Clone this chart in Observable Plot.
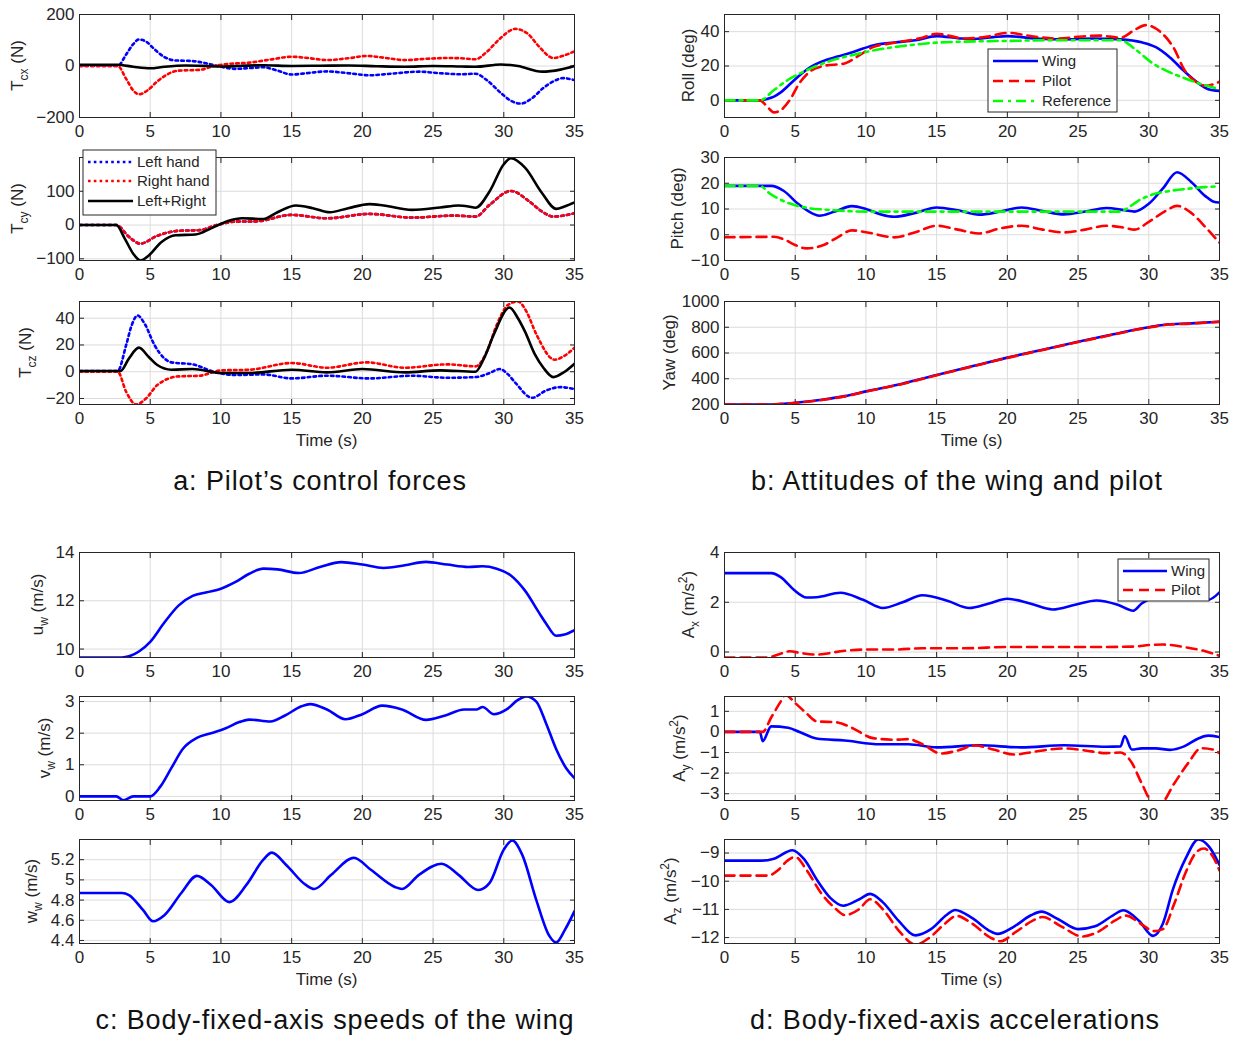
<!DOCTYPE html>
<html><head><meta charset="utf-8">
<script src="https://cdn.jsdelivr.net/npm/d3@7"></script>
<script src="https://cdn.jsdelivr.net/npm/@observablehq/plot@0.6"></script>
<style>
body{margin:0;background:#fff;}
#root{position:relative;width:1237px;height:1039px;background:#fff;overflow:hidden;}
</style></head><body><div id="root"></div>
<script>
// ---------- DATA ----------
const xTicks = [0, 5, 10, 15, 20, 25, 30, 35];

// a: pilot's control forces (N)
const tcxLeft = [[0,0],[2.7,0],[3.3,45],[3.8,85],[4.2,103],[4.7,95],[5.3,65],[6,35],[6.7,22],[8,19],[9,10],[10,-3],[11,-11],[12,-8],[13,-5],[14,-18],[15,-33],[16.2,-27],[17.5,-21],[19,-28],[20.5,-36],[22,-30],[24,-22],[25.5,-28],[27,-32],[28,-30],[28.8,-55],[29.8,-105],[30.5,-135],[31.2,-146],[32,-125],[32.8,-85],[33.5,-60],[34.2,-47],[35,-55]];
const tcxRight = [[0,0],[2.7,0],[3.3,-50],[3.8,-95],[4.2,-110],[4.8,-95],[5.5,-60],[6.3,-30],[7,-18],[8.5,-15],[9.5,0],[10.5,8],[12,13],[13.5,25],[15,36],[16.3,30],[17.5,23],[19,30],[20.3,39],[21.8,30],[23,23],[24.5,28],[26,31],[27,30],[28,26],[28.8,55],[29.8,110],[30.8,144],[31.7,125],[32.5,75],[33.5,31],[34.2,40],[35,57]];
const tcxSum = [[0,5],[2.7,5],[3.8,-3],[5,-9],[6,-3],[7.5,2],[9,0],[10,-2],[11.5,1],[13,3],[15,0],[17,1],[19,2],[21,-1],[23,-3],[25,0],[27,-2],[28,-3],[29.8,6],[31,0],[32.7,-22],[34,-14],[35,0]];

const tcyRight = [[0,0],[2.6,0],[3.5,-35],[4.3,-55],[5.5,-32],[7,-17],[8.5,-15],[9.7,0],[11,10],[12.5,11],[15,30],[17.5,20],[20.5,33],[23.5,22],[26.5,28],[28,25],[29,60],[30.5,101],[31.8,70],[32.7,40],[33.5,25],[35,35]];
const tcyLeft = [[0,0],[2.6,0],[3.5,-35],[4.3,-55],[5.5,-32],[7,-17],[8.5,-15],[9.7,0],[11,10],[12.5,11],[15,30],[17.5,20],[20.5,33],[23.5,22],[26.5,28],[28,25],[29,60],[30.5,101],[31.8,70],[32.7,40],[33.5,25],[35,35]];
const tcySum = [[0,0],[2.6,0],[3.2,-40],[3.8,-85],[4.3,-105],[4.9,-90],[5.8,-50],[6.8,-30],[8.2,-28],[9.3,-10],[10.5,12],[11.5,20],[13,18],[14,38],[15.3,58],[16.5,50],[17.7,38],[19,50],[20.5,62],[21.5,58],[23.5,45],[25.5,52],[26.8,58],[27.5,55],[28,51],[29,100],[30,180],[30.5,198],[31.5,170],[32.7,95],[33.7,48],[34.3,55],[35,67]];

const tczLeft = [[0,0.5],[2.7,0.5],[3.3,20],[3.7,35],[4.1,42],[4.6,36],[5.3,20],[6,10],[6.5,7],[8,5.5],[9.5,0],[11,-2.5],[13,-2],[15,-5],[17.5,-3],[20.5,-5],[23.5,-3],[26,-4.5],[28,-4],[29,-1],[29.7,2],[30.3,-2],[30.8,-8],[32,-19.5],[33,-14],[34,-11.5],[35,-13]];
const tczRight = [[0,0],[2.7,0],[3.3,-15],[4,-24.5],[4.7,-20],[5.5,-10],[7,-3.5],[8.5,-3],[10,1],[12,1.5],[15,6.5],[17.5,3],[20.3,7],[23,3],[26,5.5],[28,4],[28.8,15],[29.5,35],[30.3,50],[31,52.5],[31.6,45],[32.3,28],[33.6,9],[34.3,12],[35,18]];
const tczSum = [[0,0.5],[2.9,0.5],[3.5,10],[4.2,18],[4.9,11],[5.5,5],[6.5,1.5],[8,2],[10,-1],[12,-1],[15,1.5],[17.5,-0.5],[20,2],[23,-0.5],[25.5,1],[28,0],[28.6,10],[29.3,28],[30.4,48],[31,40],[31.5,30],[32.2,13],[32.8,3],[33.5,-4],[34.3,0],[35,6]];

// b: attitudes (deg)
const rollWing = [[0,0],[2.5,0],[3,0.8],[3.5,2.2],[4,4.8],[5,12.3],[6,19],[7,23],[8,25.5],[9.2,28.5],[10.5,32],[12,33.7],[13.5,35],[15,37.4],[16.5,36.2],[17.5,35.6],[19,36.8],[20,37.4],[22,36],[24,35.5],[26,36],[28,35.5],[29.5,33.8],[30.5,31],[31.5,25],[32.5,17],[33.5,10],[34.2,6.5],[35,5.5]];
const rollPilot = [[0,0],[2.5,0],[3,-3.5],[3.5,-7],[4,-5.6],[4.6,0],[5.3,10],[6,16.5],[7,20],[8.5,21.5],[9.5,26],[10.5,31],[12,33.5],[14,36.5],[15,38.8],[17,36],[18.5,37],[20,39.3],[22,37],[23.5,36],[25,37],[26.5,37.7],[28,36.5],[29,41],[29.8,43.8],[30.8,40],[31.8,30],[32.5,18],[33.3,11],[34,8.5],[35,10.8]];
const rollRef = [[0,0],[2.5,0],[3.5,6],[4.5,12],[5.5,16.3],[6.5,20],[7.5,23],[9,26.3],[10.5,29],[12,31],[13.5,32.5],[15,33.6],[17,34.2],[20,34.6],[23,35],[28,35],[29,30],[30.2,22],[31.3,17],[32.5,13],[33.5,10],[34.3,8],[35,6.5]];

const pitchWing = [[0,19],[2.5,19],[3.3,19],[4.2,17],[5.2,12],[6.2,8.3],[6.7,7.4],[7.8,9],[9,11.1],[10,10],[11,8],[12,7],[13.5,8.5],[15,10.6],[16.5,9.5],[18,7.8],[19.5,9],[21,10.6],[22.5,9.2],[24,7.9],[25.5,9],[27,10.4],[28.3,9.5],[29,9],[30,12],[31,18],[32,24.3],[33,20.5],[34,15],[34.6,12.8],[35,12.5]];
const pitchPilot = [[0,-1],[3.5,-0.8],[4.3,-2],[5,-4],[5.8,-5.3],[7,-4],[8,-1],[9,1.7],[10,1],[12,-1],[13.5,1],[15,3.5],[16.5,2],[18,0.5],[19.5,2.5],[21,3.5],[22.5,2],[24,0.9],[25.5,2],[27,3.5],[28.2,2.8],[29,2],[30,5],[31.2,9.3],[32,11.2],[33,8.5],[34,3],[35,-3.1]];
const pitchRef = [[0,19],[2.5,19],[3.2,16],[4.2,13],[5,11.5],[6,10.3],[7,9.8],[8,9.4],[10,9],[28,9],[28.4,10],[29.2,13],[30.2,15.5],[31.5,17],[33,18],[34,18.5],[35,18.8]];

const yawWing = [[0,200],[3,200],[4,205],[5,214],[7,239],[8.5,265],[10,302],[12.5,360],[15,429],[17.5,497],[20,564],[22.5,626],[25,687],[27.5,745],[29,780],[30,800],[31,818],[33,830],[35,843]];
const yawPilot = [[0,199],[3,199],[4,203],[5,212],[7,237],[8.5,263],[10,300],[12.5,358],[15,427],[17.5,495],[20,562],[22.5,624],[25,685],[27.5,743],[29,778],[30,798],[31,816],[33,829],[35,842]];

// c: body-fixed-axis speeds of the wing (m/s)
const uw = [[0,9.65],[3,9.65],[3.5,9.7],[4.2,9.9],[5,10.3],[6,11.1],[7,11.8],[8,12.2],[9,12.35],[10,12.5],[11,12.77],[12,13.12],[13,13.33],[14,13.3],[15.5,13.15],[17,13.4],[18.5,13.6],[20,13.5],[21.5,13.36],[23,13.47],[24.5,13.61],[26,13.5],[27.5,13.4],[28.5,13.43],[29.5,13.33],[30.5,13.05],[31.5,12.42],[32.5,11.5],[33,11.05],[33.7,10.55],[34.3,10.6],[35,10.78]];
const vw = [[0,0],[2.6,0],[3.1,-0.12],[3.8,0],[5,0],[5.7,0.3],[6.5,0.9],[7.3,1.5],[8.3,1.85],[9.3,2.0],[10.3,2.15],[11.3,2.35],[12,2.43],[13.5,2.37],[14.5,2.55],[15.7,2.85],[16.3,2.92],[17.5,2.75],[18.8,2.44],[20,2.6],[21.4,2.87],[22.8,2.75],[24.5,2.42],[25.8,2.55],[27.2,2.75],[28.1,2.75],[28.5,2.83],[29.3,2.6],[30.2,2.75],[31,3.05],[31.6,3.16],[32.3,3.0],[33,2.3],[33.7,1.5],[34.4,0.9],[35,0.58]];
const ww = [[0,4.87],[3,4.87],[3.5,4.85],[4.5,4.7],[5.2,4.59],[6,4.65],[7.2,4.87],[8.3,5.04],[9.3,4.95],[10.6,4.78],[11.8,4.95],[13,5.2],[13.6,5.27],[14.6,5.15],[16,4.95],[16.6,4.91],[17.8,5.05],[19.4,5.22],[20.6,5.1],[22.3,4.93],[22.8,4.91],[24,5.05],[25.6,5.16],[26.8,5.05],[28.2,4.9],[29,4.97],[30,5.3],[30.6,5.39],[31.3,5.25],[32.3,4.8],[33.2,4.45],[33.7,4.38],[34.3,4.5],[35,4.69]];

// d: body-fixed-axis accelerations (m/s^2)
const axWing = [[0,3.17],[3.3,3.17],[4,3.0],[4.9,2.5],[5.8,2.19],[6.5,2.2],[8.2,2.38],[9.8,2.1],[11.2,1.77],[12.6,2.0],[14,2.28],[15.8,2.05],[17.3,1.77],[18.7,1.95],[20,2.14],[21.6,1.95],[23.2,1.71],[24.8,1.9],[26.3,2.07],[27.8,1.9],[28.9,1.66],[29.5,1.95],[30.5,2.25],[31.5,2.35],[32.5,2.25],[33.5,2.1],[34.2,2.1],[35,2.4]];
const axPilot = [[0,-0.22],[3,-0.22],[3.8,-0.1],[4.6,0.03],[5.5,-0.05],[6.5,-0.1],[8.5,0.05],[10,0.1],[12,0.1],[14,0.15],[17,0.15],[20,0.2],[23,0.2],[26,0.2],[29,0.22],[30,0.28],[31,0.3],[32.5,0.2],[34,0.03],[35,-0.15]];
const ayWing = [[0,0],[2.5,0],[2.7,-0.45],[3.3,0.27],[4.5,0.2],[5.3,0],[6.5,-0.32],[8.5,-0.42],[11,-0.6],[13,-0.6],[15,-0.75],[18,-0.65],[21,-0.75],[24,-0.65],[27,-0.72],[28,-0.7],[28.3,-0.2],[28.8,-0.85],[29.5,-0.8],[30.5,-0.8],[31.5,-0.87],[32.5,-0.7],[33.5,-0.32],[34.2,-0.18],[35,-0.25]];
const ayPilot = [[0,0],[2.7,0],[3.3,0.7],[4,1.5],[4.3,1.8],[5,1.4],[5.8,0.9],[6.5,0.52],[8,0.46],[9,0.2],[10.5,-0.3],[12,-0.38],[13,-0.35],[14,-0.6],[15.3,-1.05],[16.5,-0.9],[17.7,-0.66],[19,-0.85],[20.5,-1.1],[22,-0.95],[24,-0.8],[25.5,-0.9],[27,-1.03],[28,-1.0],[28.8,-1.5],[29.5,-2.5],[30.3,-3.4],[30.9,-3.4],[31.8,-2.5],[32.8,-1.5],[33.7,-0.79],[34.5,-0.85],[35,-1.03]];
const azWing = [[0,-9.27],[2.6,-9.27],[3.5,-9.2],[4.8,-8.9],[5.6,-9.2],[6.6,-10],[7.5,-10.6],[8.4,-10.87],[9.5,-10.65],[10.3,-10.45],[11.2,-10.75],[12.3,-11.4],[13.5,-11.92],[14.6,-11.7],[15.7,-11.2],[16.3,-11.02],[17.5,-11.3],[18.7,-11.75],[19.3,-11.87],[20.5,-11.6],[21.7,-11.2],[22.4,-11.08],[23.6,-11.35],[25,-11.7],[26.2,-11.6],[27.5,-11.2],[28.2,-11.03],[29.3,-11.4],[30.3,-11.94],[31,-11.5],[31.7,-10.3],[32.6,-9.2],[33.5,-8.52],[34.3,-8.8],[35,-9.42]];
const azPilot = [[0,-9.8],[3.1,-9.8],[3.8,-9.6],[4.5,-9.25],[5,-9.14],[5.8,-9.6],[6.8,-10.4],[7.8,-10.95],[8.5,-11.2],[9.5,-11.0],[10.3,-10.64],[11.2,-11.0],[12.4,-11.8],[13.5,-12.25],[14.5,-12.0],[15.6,-11.5],[16.4,-11.23],[17.5,-11.5],[18.8,-12.0],[19.5,-12.13],[20.6,-11.8],[21.8,-11.4],[22.5,-11.27],[23.8,-11.6],[25.3,-11.96],[26.4,-11.8],[27.6,-11.4],[28.4,-11.22],[29.4,-11.5],[30.4,-11.77],[31,-11.7],[31.8,-10.8],[32.6,-9.7],[33.4,-8.95],[33.9,-8.84],[34.5,-9.1],[35,-9.62]];

// ---------- STYLES ----------
const FONT = "'Liberation Sans', Arial, Helvetica, sans-serif";
const TXT = "#262626";
const LW = 2.6;
const S = {
  blue:   {stroke: "#0000ff", strokeWidth: LW},
  redDash:{stroke: "#ff0000", strokeWidth: LW, strokeDasharray: "10 6"},
  green:  {stroke: "#00ff00", strokeWidth: LW, strokeDasharray: "10 5 3 5"},
  blueDot:{stroke: "#0000ff", strokeWidth: LW, strokeDasharray: "2.6 3.2"},
  redDot: {stroke: "#ff0000", strokeWidth: LW, strokeDasharray: "2.6 3.2"},
  black:  {stroke: "#000000", strokeWidth: LW}
};

const fmt = d => d < 0 ? "\u2212" + Math.abs(d) : String(d);
const blank = () => "";
const root = document.getElementById("root");
const ML = 79, MR = 18, MT = 8, MB = 28, FW = 495;

function panel(p) {
  const svgLeft = p.fx - ML, svgTop = p.fy - MT;
  const marks = [
    Plot.gridX(xTicks, {stroke: "#dcdcdc", strokeOpacity: 1, strokeWidth: 1}),
    Plot.gridY(p.ticks, {stroke: "#dcdcdc", strokeOpacity: 1, strokeWidth: 1}),
    Plot.axisX({ticks: xTicks, tickSize: -5, tickPadding: 12, label: null, tickFormat: fmt, stroke: "#262626"}),
    Plot.axisX({anchor: "top", ticks: xTicks, tickSize: -5, tickPadding: 0, label: null, tickFormat: blank, stroke: "#262626"}),
    Plot.axisY({ticks: p.ticks, tickSize: -5, tickPadding: 10, label: null, tickFormat: fmt, stroke: "#262626"}),
    Plot.axisY({anchor: "right", ticks: p.ticks, tickSize: -5, tickPadding: 0, label: null, tickFormat: blank, stroke: "#262626"}),
    ...p.series.map(([data, st]) => Plot.line(data.map(([t, v]) => ({t, v})),
        {x: "t", y: "v", curve: "monotone-x", clip: true, ...st})),
    Plot.frame({stroke: "#262626", strokeWidth: 1})
  ];
  const svg = Plot.plot({
    width: ML + FW + MR, height: MT + p.fh + MB,
    marginLeft: ML, marginRight: MR, marginTop: MT, marginBottom: MB,
    x: {domain: [0, 35]}, y: {domain: p.domain},
    style: {background: "none", overflow: "visible", fontFamily: FONT, fontSize: "17px", color: TXT,
            position: "absolute", left: svgLeft + "px", top: svgTop + "px", maxWidth: "none"},
    marks
  });
  root.appendChild(svg);
  const s = d3.select(svg);
  // y label with sub/superscripts
  const t = s.append("text")
    .attr("transform", `translate(${p.labelX + 6 - svgLeft},${MT + p.fh / 2}) rotate(-90)`)
    .attr("text-anchor", "middle").attr("font-size", 17).attr("fill", TXT).attr("font-family", FONT);
  let shift = 0;
  for (const [txt, kind] of p.label) {
    const target = kind === "sub" ? 5 : kind === "sup" ? -7 : 0;
    const ts = t.append("tspan").text(txt);
    if (target !== shift) ts.attr("dy", target - shift);
    if (kind) ts.attr("font-size", 12);
    shift = target;
  }
  if (p.xlabel) {
    s.append("text").attr("x", ML + FW / 2).attr("y", MT + p.fh + 42)
      .attr("text-anchor", "middle").attr("font-size", 17).attr("fill", TXT)
      .attr("font-family", FONT).text("Time (s)");
  }
  if (p.legend) {
    const L = p.legend;
    const g = s.append("g").attr("transform", `translate(${-svgLeft},${-svgTop})`);
    g.append("rect").attr("x", L.x).attr("y", L.y).attr("width", L.w).attr("height", L.h)
      .attr("fill", "#fff").attr("stroke", "#262626").attr("stroke-width", 1);
    L.items.forEach(([label, st], i) => {
      const yy = L.rows[i];
      g.append("line").attr("x1", L.x1).attr("x2", L.x2).attr("y1", yy).attr("y2", yy)
        .attr("stroke", st.stroke).attr("stroke-width", st.strokeWidth)
        .attr("stroke-dasharray", st.strokeDasharray || null);
      g.append("text").attr("x", L.tx).attr("y", yy).attr("dy", "0.35em").attr("text-anchor", "start")
        .attr("font-size", 15).attr("font-family", FONT).attr("fill", TXT).text(label);
    });
  }
}

const L_ = 79, R_ = 724;
const rows = [[14, 103], [157, 103], [301, 103], [552, 105], [696, 104], [839, 104]];

panel({fx: L_, fy: rows[0][0], fh: rows[0][1], domain: [-200, 200], ticks: [-200, 0, 200], labelX: 17,
  label: [["T"], ["cx", "sub"], [" (N)"]],
  series: [[tcxLeft, S.blueDot], [tcxRight, S.redDot], [tcxSum, S.black]]});
panel({fx: L_, fy: rows[1][0], fh: rows[1][1], domain: [-105, 200], ticks: [-100, 0, 100], labelX: 17,
  label: [["T"], ["cy", "sub"], [" (N)"]],
  series: [[tcyLeft, S.blueDot], [tcyRight, S.redDot], [tcySum, S.black]],
  legend: {x: 83, y: 150, w: 133, h: 65, x1: 88, x2: 133, tx: 137, rows: [162, 181, 201],
    items: [["Left hand", S.blueDot], ["Right hand", S.redDot], ["Left+Right", S.black]]}});
panel({fx: L_, fy: rows[2][0], fh: rows[2][1], domain: [-24.5, 52.5], ticks: [-20, 0, 20, 40], labelX: 25,
  label: [["T"], ["cz", "sub"], [" (N)"]], xlabel: true,
  series: [[tczLeft, S.blueDot], [tczRight, S.redDot], [tczSum, S.black]]});

panel({fx: R_, fy: rows[0][0], fh: rows[0][1], domain: [-10, 50], ticks: [0, 20, 40], labelX: 688,
  label: [["Roll (deg)"]],
  series: [[rollWing, S.blue], [rollPilot, S.redDash], [rollRef, S.green]],
  legend: {x: 988, y: 49, w: 129, h: 63, x1: 993, x2: 1038, tx: 1042, rows: [61, 81, 101],
    items: [["Wing", S.blue], ["Pilot", S.redDash], ["Reference", S.green]]}});
panel({fx: R_, fy: rows[1][0], fh: rows[1][1], domain: [-10, 30], ticks: [-10, 0, 10, 20, 30], labelX: 677,
  label: [["Pitch (deg)"]],
  series: [[pitchWing, S.blue], [pitchPilot, S.redDash], [pitchRef, S.green]]});
panel({fx: R_, fy: rows[2][0], fh: rows[2][1], domain: [200, 1000], ticks: [200, 400, 600, 800, 1000], labelX: 669,
  label: [["Yaw (deg)"]], xlabel: true,
  series: [[yawWing, S.blue], [yawPilot, S.redDash]]});

panel({fx: L_, fy: rows[3][0], fh: rows[3][1], domain: [9.65, 14], ticks: [10, 12, 14], labelX: 37,
  label: [["u"], ["w", "sub"], [" (m/s)"]],
  series: [[uw, S.blue]]});
panel({fx: L_, fy: rows[4][0], fh: rows[4][1], domain: [-0.13, 3.16], ticks: [0, 1, 2, 3], labelX: 44,
  label: [["v"], ["w", "sub"], [" (m/s)"]],
  series: [[vw, S.blue]]});
panel({fx: L_, fy: rows[5][0], fh: rows[5][1], domain: [4.37, 5.4], ticks: [4.4, 4.6, 4.8, 5, 5.2], labelX: 31,
  label: [["w"], ["w", "sub"], [" (m/s)"]], xlabel: true,
  series: [[ww, S.blue]]});

panel({fx: R_, fy: rows[3][0], fh: rows[3][1], domain: [-0.22, 4], ticks: [0, 2, 4], labelX: 688,
  label: [["A"], ["x", "sub"], [" (m/s"], ["2", "sup"], [")"]],
  series: [[axWing, S.blue], [axPilot, S.redDash]],
  legend: {x: 1118, y: 559, w: 91, h: 42, x1: 1123, x2: 1167, tx: 1171, rows: [571, 590],
    items: [["Wing", S.blue], ["Pilot", S.redDash]]}});
panel({fx: R_, fy: rows[4][0], fh: rows[4][1], domain: [-3.33, 1.72], ticks: [-3, -2, -1, 0, 1], labelX: 679,
  label: [["A"], ["y", "sub"], [" (m/s"], ["2", "sup"], [")"]],
  series: [[ayWing, S.blue], [ayPilot, S.redDash]]});
panel({fx: R_, fy: rows[5][0], fh: rows[5][1], domain: [-12.21, -8.52], ticks: [-12, -11, -10, -9], labelX: 670,
  label: [["A"], ["z", "sub"], [" (m/s"], ["2", "sup"], [")"]], xlabel: true,
  series: [[azWing, S.blue], [azPilot, S.redDash]]});

// ---------- CAPTIONS ----------
const cap = d3.select(root).append("svg")
  .attr("width", 1237).attr("height", 1039)
  .style("position", "absolute").style("left", "0px").style("top", "0px").style("pointer-events", "none");
[["a: Pilot\u2019s control forces", 320, 490],
 ["b: Attitudes of the wing and pilot", 957, 490],
 ["c: Body-fixed-axis speeds of the wing", 335, 1029],
 ["d: Body-fixed-axis accelerations", 955, 1029]].forEach(([txt, x, y]) => {
  cap.append("text").attr("x", x).attr("y", y).attr("text-anchor", "middle")
    .attr("font-family", "'Liberation Sans', Arial, Helvetica, sans-serif").attr("font-size", 27)
    .attr("letter-spacing", "0.9px").attr("fill", "#111").text(txt);
});
</script></body></html>
